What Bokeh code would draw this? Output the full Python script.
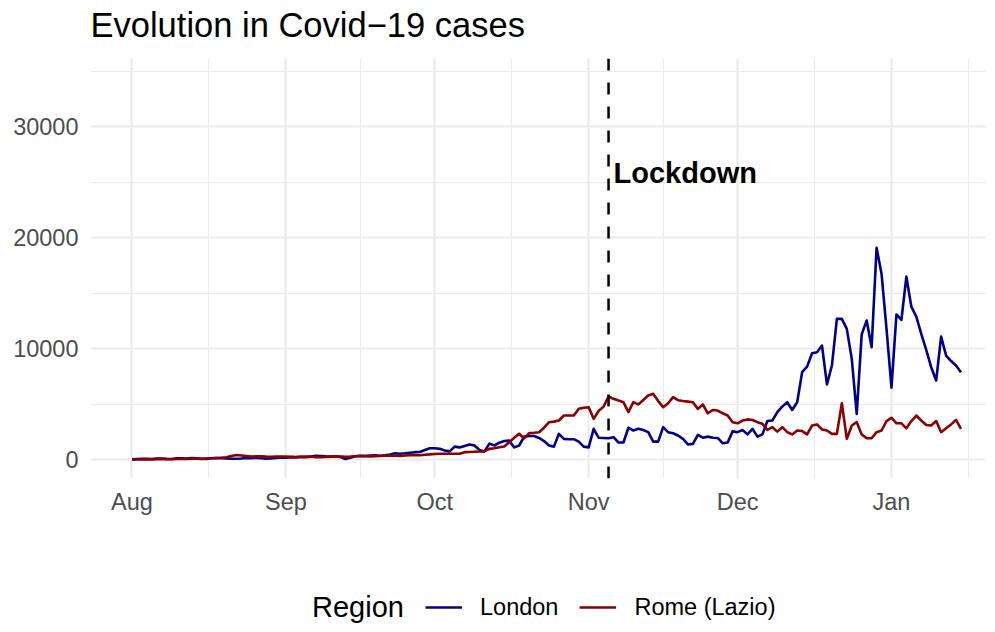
import pandas as pd
from bokeh.plotting import figure
from bokeh.layouts import column
from bokeh.models import (Range1d, FixedTicker, DatetimeTickFormatter, NumeralTickFormatter,
                          Span, Label, Legend, LegendItem)
from bokeh.embed import file_html
from bokeh.resources import INLINE

# ---------------- data ----------------
TITLE = "Evolution in Covid\u221219 cases"
START_DATE = "2020-08-01"
LOCKDOWN_DATE = "2020-11-05"
LOCKDOWN_LABEL = "Lockdown"
LOCKDOWN_LABEL_Y = 25800
MONTH_BREAKS = ["2020-08-01", "2020-09-01", "2020-10-01", "2020-11-01",
                "2020-12-01", "2021-01-01", "2021-02-01"]
Y_BREAKS = [0, 10000, 20000, 30000]
Y_MINOR_BREAKS = [5000, 15000, 25000, 35000]
LEGEND_TITLE = "Region"
SERIES_NAMES = ["London", "Rome (Lazio)"]
SERIES_COLORS = ["#00008B", "#8B0000"]

london_aug = [60, 90, 100, 110, 80, 120, 130, 100, 90, 150, 140, 130, 160, 140, 110, 100,
              150, 170, 160, 140, 120, 110, 130, 170, 160, 180, 150, 120, 140, 190, 200]
london_sep = [210, 250, 230, 280, 240, 300, 380, 350, 320, 300, 310, 260, 80, 200, 330,
              380, 360, 400, 420, 380, 420, 480, 600, 560, 600, 650, 700, 720, 900, 1060]
london_oct = [1050, 1000, 850, 770, 1200, 1130, 1250, 1400, 1300, 900, 770, 1470, 1300, 1550,
              1700, 1740, 1130, 1300, 2100, 2150, 2150, 1980, 1700, 1300, 1200, 2350, 1900,
              1870, 1870, 1650, 1200]
london_nov = [1130, 2800, 2000, 1980, 1950, 2050, 1570, 1570, 2900, 2650, 2800, 2700, 2500,
              1650, 1650, 2950, 2500, 2400, 2200, 1900, 1400, 1450, 2250, 2000, 2100, 2000,
              1980, 1500, 1570, 2570]
london_dec = [2500, 2700, 2300, 2800, 2100, 2300, 3500, 3550, 4300, 4800, 5200, 4500, 5200,
              7900, 8400, 9600, 9700, 10300, 6800, 8500, 12700, 12700, 11800, 9100, 4150,
              11300, 12550, 10150, 19100, 16750, 11800]
london_jan = [6500, 13100, 12600, 16500, 13800, 12900, 11350, 9900, 8350, 7150, 11100, 9400,
              8900, 8500, 7900]

rome_aug = [30, 40, 50, 60, 50, 70, 80, 60, 60, 90, 100, 90, 110, 120, 100, 130, 150, 180,
            200, 250, 350, 450, 400, 350, 300, 320, 330, 300, 280, 300, 310]
rome_sep = [300, 280, 260, 290, 300, 310, 250, 240, 270, 300, 320, 300, 280, 300, 330, 350,
            340, 320, 330, 360, 380, 400, 380, 360, 400, 430, 450, 420, 470, 500]
rome_oct = [540, 560, 560, 560, 560, 560, 700, 720, 740, 760, 765, 1000, 1050, 1150, 1215,
            1600, 2000, 2360, 1935, 2415, 2450, 2500, 2900, 3400, 3450, 3555, 4000, 4000,
            4000, 4600, 4700]
rome_nov = [4750, 3700, 4400, 4800, 5715, 5500, 5350, 5200, 4300, 5200, 5000, 5400, 5800,
            5950, 5300, 4750, 5100, 5650, 5380, 5300, 5250, 5200, 4600, 5000, 4200, 4500,
            4450, 4200, 4000, 3400]
rome_dec = [3300, 3550, 3650, 3600, 3400, 3250, 2700, 2950, 2550, 2950, 2500, 2300, 2650,
            2600, 2300, 3100, 3200, 2750, 2650, 2350, 2350, 5100, 1900, 3100, 3400, 2300,
            1950, 1950, 2500, 2650, 3500]
rome_jan = [3800, 3300, 3300, 2850, 3500, 4000, 3550, 3150, 3100, 3500, 2500, 2850, 3200,
            3600, 2800]

london = london_aug + london_sep + london_oct + london_nov + london_dec + london_jan
rome = rome_aug + rome_sep + rome_oct + rome_nov + rome_dec + rome_jan
dates = pd.date_range(START_DATE, periods=len(london), freq="D")

# ---------------- layout constants ----------------
W = 987
H_TITLE = 50
H_MAIN = 510
H_LEG = 64
FONT = "Liberation Sans"
GRID = "#EBEBEB"
LINE_W = 2.6


def ms(ts):
    return pd.Timestamp(ts).timestamp() * 1000.0


def strip(height):
    f = figure(width=W, height=height, output_backend="svg", toolbar_location=None,
               x_range=Range1d(0, W), y_range=Range1d(0, height),
               x_axis_location=None, y_axis_location=None,
               min_border_left=0, min_border_right=0, min_border_top=0, min_border_bottom=0)
    f.grid.visible = False
    f.outline_line_color = None
    f.background_fill_color = "white"
    f.border_fill_color = "white"
    return f


# ---------------- title strip ----------------
top = strip(H_TITLE)
top.add_layout(Label(x=0, y=25.5, text=TITLE, text_font=FONT, text_font_size="34.5px",
                     text_color="black", text_baseline="middle", text_align="left"))

# ---------------- main plot ----------------
day_ms = 86400000.0
x_start = ms(START_DATE) - 8.36 * day_ms
x_end = x_start + 180.3 * day_ms

p = figure(width=W, height=H_MAIN, x_axis_type="datetime", output_backend="svg",
           toolbar_location=None, x_range=Range1d(x_start, x_end),
           y_range=Range1d(-1670, 36140),
           min_border_left=90, min_border_right=2, min_border_top=8, min_border_bottom=82)
p.outline_line_color = None
p.background_fill_color = "white"
p.border_fill_color = "white"

major_x = [ms(d) for d in MONTH_BREAKS]
minor_x = [(a + b) / 2 for a, b in zip(major_x[:-1], major_x[1:])]
p.xaxis.ticker = FixedTicker(ticks=major_x, minor_ticks=minor_x)
fmt = "%b"
p.xaxis.formatter = DatetimeTickFormatter(milliseconds=fmt, seconds=fmt, minsec=fmt,
                                          minutes=fmt, hourmin=fmt, hours=fmt, days=fmt,
                                          months=fmt, years=fmt)
p.yaxis.ticker = FixedTicker(ticks=Y_BREAKS, minor_ticks=Y_MINOR_BREAKS)
p.yaxis.formatter = NumeralTickFormatter(format="0")

for ax in (p.xaxis, p.yaxis):
    ax.axis_line_color = None
    ax.major_tick_line_color = None
    ax.minor_tick_line_color = None
    ax.major_tick_out = 0
    ax.major_tick_in = 0
    ax.minor_tick_out = 0
    ax.minor_tick_in = 0
    ax.major_label_text_font = FONT
    ax.major_label_text_font_size = "23.5px"
    ax.major_label_text_color = "#4D4D4D"
p.xaxis.major_label_standoff = 10
p.yaxis.major_label_standoff = 12

for g in (p.xgrid, p.ygrid):
    g.grid_line_color = GRID
    g.grid_line_width = 2.2
    g.minor_grid_line_color = GRID
    g.minor_grid_line_width = 1.1

p.line(dates, london, line_color=SERIES_COLORS[0], line_width=LINE_W, line_join="round")
p.line(dates, rome, line_color=SERIES_COLORS[1], line_width=LINE_W, line_join="round")

p.add_layout(Span(location=ms(LOCKDOWN_DATE), dimension="height", line_color="black",
                  line_width=2.5, line_dash="12 12"))
p.add_layout(Label(x=ms(LOCKDOWN_DATE), y=LOCKDOWN_LABEL_Y, x_offset=5, text=LOCKDOWN_LABEL,
                   text_font=FONT, text_font_size="29px", text_font_style="bold",
                   text_color="black", text_baseline="middle", text_align="left"))

# ---------------- legend strip ----------------
leg = strip(H_LEG)
# the legend's renderers hold the real series (they fall outside this strip's ranges)
k0 = leg.line(dates, london, line_alpha=0)
k1 = leg.line(dates, london, line_color=SERIES_COLORS[0], line_width=LINE_W)
k2 = leg.line(dates, rome, line_color=SERIES_COLORS[1], line_width=LINE_W)

ITEM_H = 34
leg_title = Legend(items=[LegendItem(label=LEGEND_TITLE, renderers=[k0])],
                   orientation="horizontal", location=(221, 0))
leg_title.label_text_font = FONT
leg_title.label_text_font_size = "29px"
leg_title.label_text_color = "black"
leg_title.glyph_width = 1
leg_title.label_standoff = 0

leg_items = Legend(items=[LegendItem(label=SERIES_NAMES[0], renderers=[k1]),
                          LegendItem(label=SERIES_NAMES[1], renderers=[k2])],
                   orientation="horizontal", location=(335, 0))
leg_items.label_text_font = FONT
leg_items.label_text_font_size = "23.5px"
leg_items.label_text_color = "black"
leg_items.label_standoff = 18
leg_items.glyph_width = 37
leg_items.spacing = 21

for lg in (leg_title, leg_items):
    lg.glyph_height = ITEM_H
    lg.label_height = ITEM_H
    lg.padding = 0
    lg.margin = 0
    lg.border_line_color = None
    lg.background_fill_alpha = 0
    leg.add_layout(lg, "center")

layout = column(top, p, leg, spacing=0)
open("out.html", "w").write(file_html(layout, INLINE))
